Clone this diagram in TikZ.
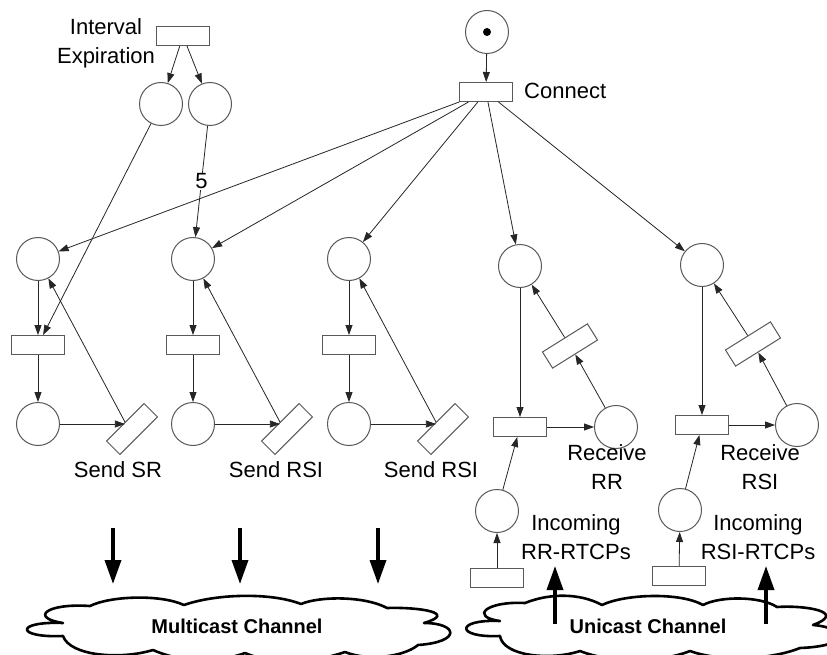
\documentclass[tikz,border=0pt]{standalone}
\usepackage{fontspec}
\setmainfont{Liberation Sans}
\usetikzlibrary{arrows.meta}
\begin{document}
\begin{tikzpicture}[x=1pt,y=-1pt,
 place/.style={circle,draw=black!65,line width=1pt,minimum size=43pt,inner sep=0pt},
 trans/.style={rectangle,draw=black!65,line width=1pt,minimum width=53pt,minimum height=19pt,inner sep=0pt},
 arc/.style={draw=black!85,line width=0.8pt,-{Triangle[length=10pt,width=7pt]}},
 lbl/.style={font=\fontsize{22}{29}\selectfont,align=center,inner sep=0pt},
 big/.style={line width=3.5pt,-{Triangle[length=24pt,width=16pt]}},
 cloudline/.style={draw=black,fill=white,line width=2.6pt,line join=round},
 chan/.style={font=\bfseries\fontsize{20}{24}\selectfont,inner sep=0pt}
 ]
\useasboundingbox (0,0) rectangle (827,655);
\fill[white] (0,0) rectangle (827,655);

% clouds
\begin{scope}
\clip (0,0) rectangle (827,655);
% multicast cloud
\path[cloudline] (90,606)
  .. controls (110,596) and (160,594) .. (184,605)
  .. controls (215,594) and (270,592) .. (301,604)
  .. controls (320,596) and (365,596) .. (387,608)
  .. controls (420,607) and (458,613) .. (424,623)
  .. controls (458,623) and (462,642) .. (418,645)
  .. controls (405,656) and (370,662) .. (345,652)
  .. controls (310,664) and (270,664) .. (245,653)
  .. controls (215,664) and (180,662) .. (153,650)
  .. controls (120,660) and (70,656) .. (63,636)
  .. controls (15,638) and (15,621) .. (63,623)
  .. controls (30,618) and (45,603) .. cycle;
% unicast cloud
\path[cloudline] (525,603)
  .. controls (550,593) and (580,593) .. (602,605)
  .. controls (625,594) and (680,592) .. (703,605)
  .. controls (720,596) and (760,596) .. (777,607)
  .. controls (805,605) and (848,612) .. (813,625)
  .. controls (848,628) and (852,646) .. (800,648)
  .. controls (770,660) and (720,662) .. (690,651)
  .. controls (660,663) and (610,663) .. (580,651)
  .. controls (550,661) and (503,656) .. (500,636)
  .. controls (455,638) and (455,619) .. (500,621)
  .. controls (470,617) and (485,601) .. cycle;
\end{scope}
\node[chan] (mcl) at (237,626) {Multicast Channel};
\node[chan] (ucl) at (648,626) {Unicast Channel};

% top part
\node[trans] (ie) at (183,36) {};
\node[lbl] (iel) at (106,43) {Interval\\Expiration};
\node[place] (p1) at (161,104) {};
\node[place] (p2) at (210,104) {};
\node[place] (tok) at (487,32) {};
\node[circle,fill=black,minimum size=8pt,inner sep=0pt] (dot) at (487,32) {};
\node[trans] (con) at (486,92) {};
\node[lbl,anchor=west] (conl) at (524,91) {Connect};

% columns 1-3
\foreach \i/\x in {1/38,2/193,3/349}{
  \node[place] (c\i) at (\x,259) {};
  \node[trans] (t\i) at (\x,345) {};
  \node[place] (b\i) at (\x,424) {};
  \node[trans,rotate=45] (s\i) at (\x+94,429) {};
}
\node[lbl] (sl1) at (118,470) {Send SR};
\node[lbl] (sl2) at (276,470) {Send RSI};
\node[lbl] (sl3) at (431,470) {Send RSI};

% columns 4-5
\node[place] (c4) at (520,266) {};
\node[trans] (t4) at (520,427) {};
\node[place] (r4) at (616,427) {};
\node[trans,rotate=32] (s4) at (570,346) {};
\node[place] (inc4) at (497,511) {};
\node[trans] (it4) at (497,578) {};
\node[lbl] (rl4) at (607,467) {Receive\\RR};
\node[lbl] (il4) at (576,537) {Incoming\\RR-RTCPs};

\node[place] (c5) at (702,265) {};
\node[trans] (t5) at (702,425) {};
\node[place] (r5) at (797,425) {};
\node[trans,rotate=32] (s5) at (753,344) {};
\node[place] (inc5) at (680,510) {};
\node[trans] (it5) at (679,576) {};
\node[lbl] (rl5) at (760,467) {Receive\\RSI};
\node[lbl] (il5) at (758,537) {Incoming\\RSI-RTCPs};

% arcs top
\draw[arc] (tok) -- (con);
\draw[arc] (ie) -- (p1);
\draw[arc] (ie) -- (p2);
\foreach \i in {1,...,5}{ \draw[arc] (con) -- (c\i); }
\draw[arc] (p1) -- (t1);
\draw[arc] (p2) -- node[pos=0.5,fill=white,inner sep=1pt,font=\fontsize{22}{26}\selectfont] (w5) {5} (c2);

% arcs columns 1-3
\foreach \i in {1,2,3}{
  \draw[arc] (c\i) -- (t\i);
  \draw[arc] (t\i) -- (b\i);
  \draw[arc] (b\i) -- (b\i -| s\i.north);
  \draw[arc] (s\i.north) -- (c\i);
}
% arcs columns 4-5
\foreach \i in {4,5}{
  \draw[arc] (c\i) -- (t\i);
  \draw[arc] (t\i) -- (r\i);
  \draw[arc] (r\i) -- (s\i.south);
  \draw[arc] (s\i.north) -- (c\i);
  \draw[arc] (it\i) -- (inc\i);
  \draw[arc] (inc\i) -- (t\i);
}

% thick arrows
\coordinate (d1s) at (113,528); \coordinate (d1e) at (113,584);
\coordinate (d2s) at (240,528); \coordinate (d2e) at (240,584);
\coordinate (d3s) at (378,528); \coordinate (d3e) at (378,584);
\coordinate (u1s) at (555,624); \coordinate (u1e) at (555,566);
\coordinate (u2s) at (766,624); \coordinate (u2e) at (766,566);
\draw[big] (d1s) -- (d1e);
\draw[big] (d2s) -- (d2e);
\draw[big] (d3s) -- (d3e);
\draw[big] (u1s) -- (u1e);
\draw[big] (u2s) -- (u2e);
\end{tikzpicture}
\end{document}
